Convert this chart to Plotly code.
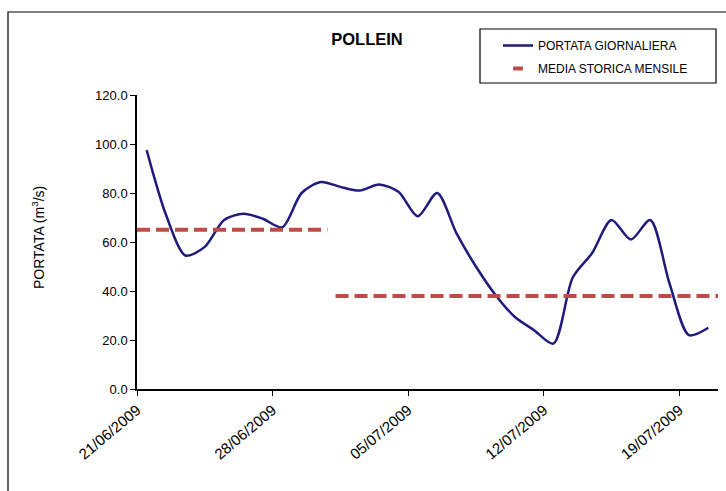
import plotly.graph_objects as go
import pandas as pd

# Daily discharge (m3/s), 21/06/2009 - 20/07/2009
dates = pd.date_range("2009-06-21", "2009-07-20", freq="D")
portata = [97.5, 71, 54.5, 58, 69, 71.5, 69.5, 66, 80, 84.5,
           82.5, 81, 83.5, 80.5, 70.5, 80, 63.5, 50, 38.5, 29.5,
           24, 18.5, 45.5, 55.5, 69, 61, 69, 43, 22, 25]

# Monthly historical mean (period start, period end, value)
mese_inizio = ["2009-06-21", "2009-07-01T06:00"]
mese_fine = ["2009-06-30T20:00", "2009-07-21"]
media_mensile = [65, 38]

tick_dates = ["2009-06-21", "2009-06-28", "2009-07-05", "2009-07-12", "2009-07-19"]
tick_labels = ["21/06/2009", "28/06/2009", "05/07/2009", "12/07/2009", "19/07/2009"]

BLUE = "#1e1b7c"
RED = "#be4b48"

fig = go.Figure()
fig.add_trace(go.Scatter(
    x=dates, y=portata, mode="lines", name="PORTATA GIORNALIERA",
    legendgroup="a", legendrank=1,
    line=dict(color=BLUE, width=2.5, shape="spline", smoothing=0.8),
    xperiod=86400000, xperiodalignment="middle"))
mx, my = [], []
for a, b, v in zip(mese_inizio, mese_fine, media_mensile):
    mx += [a, b, None]
    my += [v, v, None]
fig.add_trace(go.Scatter(
    x=mx, y=my, mode="lines", name="MEDIA STORICA MENSILE", showlegend=False,
    line=dict(color=RED, width=4, dash="13px,6px")))
# legend entry for the monthly mean (short dash symbol, as in the original)
fig.add_trace(go.Scatter(
    x=[None], y=[None], mode="markers", name="MEDIA STORICA MENSILE",
    legendgroup="b", legendrank=2,
    marker=dict(symbol="line-ew", size=7, color=RED, line=dict(color=RED, width=4))))

font = "Liberation Sans, Arial, sans-serif"
L, R, T, B = 137, 718, 95, 389
W, H = 726, 491
pw, ph = R - L, B - T
fig.update_layout(
    width=W, height=H,
    margin=dict(l=L, r=W - R, t=T, b=H - B),
    paper_bgcolor="white", plot_bgcolor="white",
    font=dict(family=font, size=12, color="#000"),
    title=dict(text="<b>POLLEIN</b>", x=367 / W, xanchor="center",
               y=1 - 39 / H, yanchor="middle",
               font=dict(size=16.5, family=font)),
    legend=dict(x=(498 - L) / pw, y=(B - 31) / ph, xanchor="left", yanchor="top",
                borderwidth=0, bgcolor="rgba(0,0,0,0)",
                font=dict(size=12, family=font), tracegroupgap=4,
                itemwidth=30),
    showlegend=True,
)
fig.update_xaxes(
    type="date", range=["2009-06-21", "2009-07-21"], automargin=False,
    tickvals=tick_dates, ticktext=tick_labels, tickangle=-40,
    ticks="outside", ticklen=5, tickcolor="#000",
    showline=True, linecolor="#000", linewidth=1.5,
    showgrid=False, zeroline=False, tickfont=dict(size=15))
fig.update_yaxes(
    range=[0, 120], dtick=20, tickformat=".1f", automargin=False,
    ticks="outside", ticklen=5, tickcolor="#000",
    showline=True, linecolor="#000", linewidth=1.5,
    showgrid=False, zeroline=False, tickfont=dict(size=13))
fig.add_annotation(text="PORTATA (m<sup>3</sup>/s)", textangle=-90,
                   xref="paper", yref="paper", x=(38 - L) / pw, y=(B - 238) / ph,
                   xanchor="center", yanchor="middle", showarrow=False,
                   font=dict(size=14, family=font))
# outer chart frame
fig.add_shape(type="rect", xref="paper", yref="paper",
              x0=(8 - L) / pw, x1=1.2, y0=-0.5, y1=(B - 12) / ph,
              line=dict(color="#000", width=1.2), fillcolor="rgba(0,0,0,0)")
# legend frame
fig.add_shape(type="rect", xref="paper", yref="paper",
              x0=(480 - L) / pw, x1=(716 - L) / pw, y0=(B - 83) / ph, y1=(B - 29) / ph,
              line=dict(color="#000", width=1.2), fillcolor="white", layer="below")
fig.write_html("out.html", config={"displayModeBar": False},
               post_script="document.body.style.margin='0';document.body.style.overflow='hidden';")
